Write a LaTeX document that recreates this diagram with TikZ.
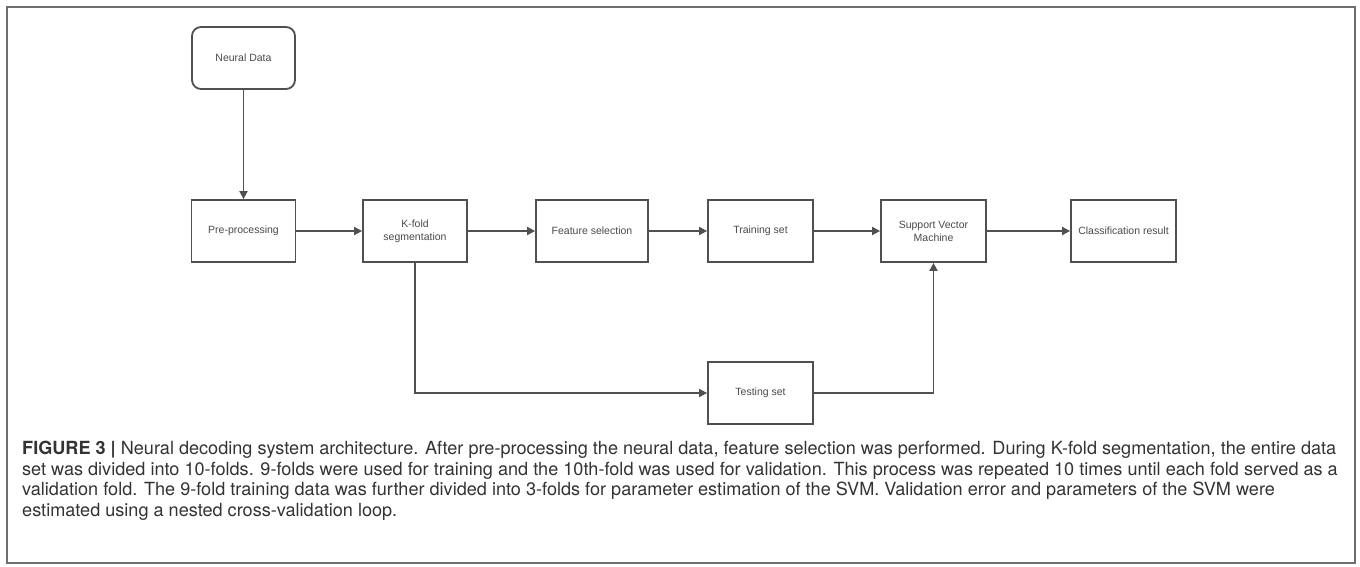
\documentclass[tikz,border=0pt]{standalone}
\usepackage{fontspec}
\setmainfont{Liberation Sans}
\newfontfamily\capfont{TeX Gyre Heros}
\usetikzlibrary{arrows.meta}
\definecolor{boxline}{HTML}{505050}
\definecolor{boxtext}{HTML}{4A4A4A}
\definecolor{captext}{HTML}{333333}
\definecolor{framecol}{HTML}{6E6E6E}
\tikzset{
  stepbox/.style={draw=boxline, line width=1.8pt, fill=white, rectangle,
    minimum height=62pt, inner sep=2pt, align=center, text=boxtext,
    font=\fontsize{10.5pt}{13pt}\selectfont},
  flow/.style={draw=boxline, line width=1.8pt,
    -{Triangle[length=8pt,width=8pt]}, shorten >=0pt},
}
\begin{document}
\begin{tikzpicture}[x=1pt,y=-1pt]
\useasboundingbox (0,0) rectangle (1360,567);
% outer frame
\draw[framecol, line width=2pt] (7,7) rectangle (1355,563);

% blocks
\node[stepbox, rounded corners=9pt, minimum width=103pt] (data) at (243.5,58) {Neural Data};
\node[stepbox, minimum width=104pt] (pre)  at (243.5,231) {Pre-processing};
\node[stepbox, minimum width=104pt] (kf)   at (415,231) {K-fold\\segmentation};
\node[stepbox, minimum width=112pt] (fs)   at (592,231) {Feature selection};
\node[stepbox, minimum width=105pt] (tr)   at (760.5,231) {Training set};
\node[stepbox, minimum width=105pt] (svm)  at (933.5,231) {Support Vector\\Machine};
\node[stepbox, minimum width=105pt] (cls)  at (1123.5,231) {Classification result};
\node[stepbox, minimum width=105pt] (te)   at (760.5,393) {Testing set};

% connectors
\draw[flow] (data) -- (pre);
\draw[flow] (pre) -- (kf);
\draw[flow] (kf) -- (fs);
\draw[flow] (fs) -- (tr);
\draw[flow] (tr) -- (svm);
\draw[flow] (svm) -- (cls);
\draw[flow] (kf.south) |- (te.west);
\draw[flow] (te.east) -| (svm.south);

% caption (anchored on the baseline of its last line)
\node[anchor=base west, inner sep=0pt, align=left, text=captext,
  font=\capfont\fontsize{18.1pt}{20.7pt}\selectfont] (cap) at (22,516.5)
  {\textbf{FIGURE 3 |} Neural decoding system architecture. After pre-processing the neural data, feature selection was performed. During K-fold segmentation, the entire data\\
   set was divided into 10-folds. 9-folds were used for training and the 10th-fold was used for validation. This process was repeated 10 times until each fold served as a\\
   validation fold. The 9-fold training data was further divided into 3-folds for parameter estimation of the SVM. Validation error and parameters of the SVM were\\
   estimated using a nested cross-validation loop.};
\end{tikzpicture}
\end{document}
